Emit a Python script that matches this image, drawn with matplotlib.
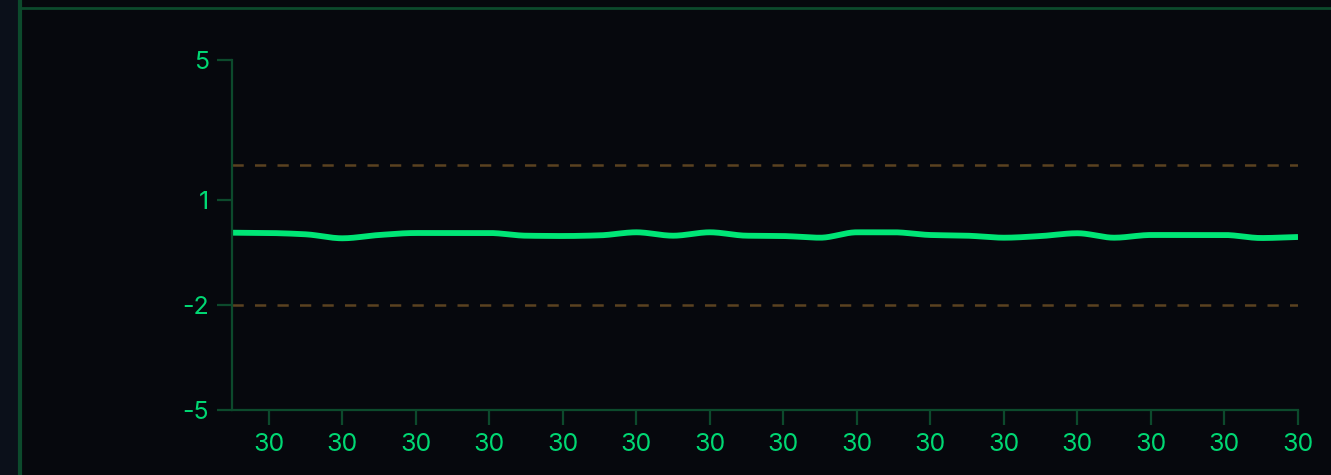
"""Flat green trace with dashed bounds on a dark panel."""
import numpy as np
import matplotlib
matplotlib.use("Agg")
import matplotlib.pyplot as plt
from matplotlib.lines import Line2D
from matplotlib.patches import Rectangle

# data
values = [0.066, 0.057, 0.020, -0.094, 0.000, 0.057, 0.057, 0.057, -0.020, -0.029,
          -0.010, 0.077, -0.020, 0.077, -0.020, -0.030, -0.077, 0.077, 0.077, 0.000,
          -0.020, -0.077, -0.030, 0.050, -0.077, 0.000, 0.000, 0.000, -0.086, -0.057]
x_ticks = list(range(1, 30, 2))
x_tick_labels = ["30"] * len(x_ticks)
y_ticks = [5, 1, -2, -5]
bounds = [2, -2]

BG = "#06080d"
STRIP = "#0b101a"
FRAME = "#0c4a2c"
LINE = "#00e676"
LABEL = "#00d873"
DASH = "#5a4220"


def monotone_curve(x, y, n=20):
    """Monotone cubic (like d3.curveMonotoneX) sampled for drawing."""
    x = np.asarray(x, float)
    y = np.asarray(y, float)
    h = np.diff(x)
    d = np.diff(y) / h
    m = np.zeros_like(y)
    m[0], m[-1] = d[0], d[-1]
    for i in range(1, len(y) - 1):
        if d[i - 1] * d[i] <= 0:
            m[i] = 0.0
        else:
            w1 = 2 * h[i] + h[i - 1]
            w2 = h[i] + 2 * h[i - 1]
            m[i] = (w1 + w2) / (w1 / d[i - 1] + w2 / d[i])
    xs, ys = [], []
    for i in range(len(x) - 1):
        t = np.linspace(0, 1, n, endpoint=False)
        h00 = 2 * t**3 - 3 * t**2 + 1
        h10 = t**3 - 2 * t**2 + t
        h01 = -2 * t**3 + 3 * t**2
        h11 = t**3 - t**2
        xs.append(x[i] + t * h[i])
        ys.append(h00 * y[i] + h10 * h[i] * m[i] + h01 * y[i + 1] + h11 * h[i] * m[i + 1])
    xs.append([x[-1]])
    ys.append([y[-1]])
    return np.concatenate(xs), np.concatenate(ys)


plt.rcParams["font.family"] = ["Inter", "DejaVu Sans"]
plt.rcParams["axes.unicode_minus"] = False

fig = plt.figure(figsize=(13.31, 4.75), dpi=100, facecolor=BG)

# left strip and frame lines of the panel
fig.patches.append(Rectangle((0, 0), 18 / 1331, 1, transform=fig.transFigure,
                             facecolor=STRIP, edgecolor="none", zorder=0))
fig.lines.append(Line2D([19.5 / 1331, 19.5 / 1331], [0, 1], transform=fig.transFigure,
                        color=FRAME, lw=3))
fig.lines.append(Line2D([19.5 / 1331, 1], [1 - 7.5 / 475, 1 - 7.5 / 475],
                        transform=fig.transFigure, color=FRAME, lw=2))

ax = fig.add_axes([232 / 1331, 1 - 410 / 475, (1298 - 232) / 1331, 350 / 475])
ax.set_facecolor(BG)

xs = np.arange(len(values))
cx, cy = monotone_curve(xs, values)
for b in bounds:
    ax.plot([xs[0], xs[-1]], [b, b], color=DASH, lw=1.8, dashes=(4.5, 4.5),
            solid_capstyle="butt")
ax.plot(cx, cy, color=LINE, lw=4.2, solid_capstyle="butt", solid_joinstyle="round")

ax.set_xlim(xs[0], xs[-1])
ax.set_ylim(-5, 5)
ax.set_xticks(x_ticks)
ax.set_xticklabels(x_tick_labels)
ax.set_yticks(y_ticks)

for side in ("top", "right"):
    ax.spines[side].set_visible(False)
for side in ("left", "bottom"):
    ax.spines[side].set_color(FRAME)
    ax.spines[side].set_linewidth(1.6)
ax.tick_params(colors=FRAME, labelcolor=LABEL, labelsize=18, length=10.5, width=1.6)
ax.tick_params(axis="x", pad=6)
ax.tick_params(axis="y", pad=6)

fig.savefig("out.png", dpi=100, facecolor=BG)
